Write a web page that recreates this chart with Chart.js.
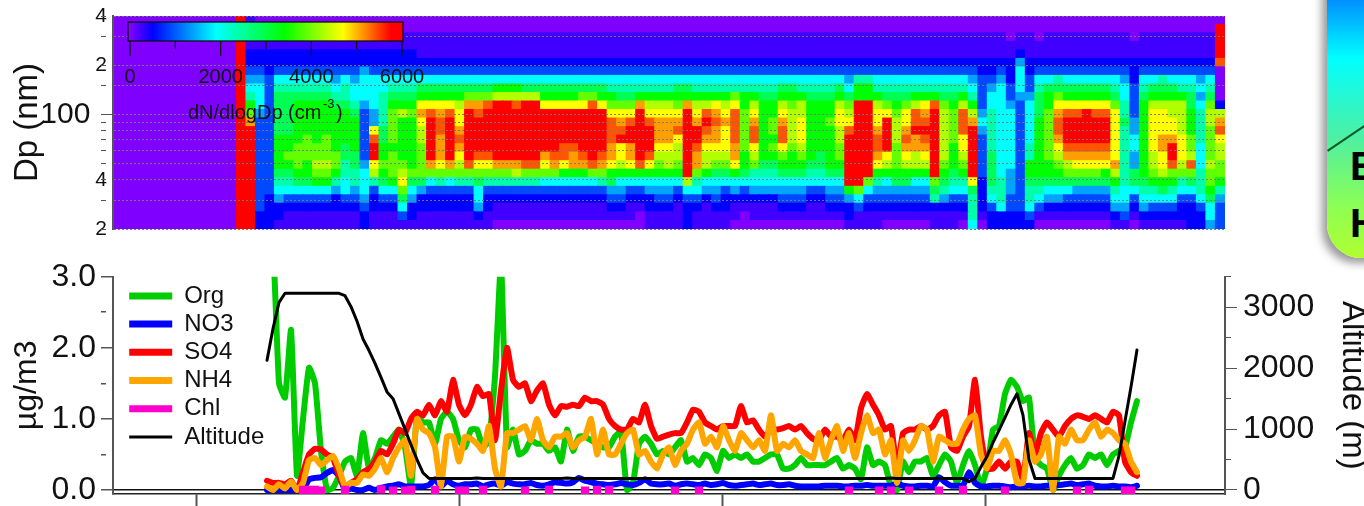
<!DOCTYPE html>
<html><head><meta charset="utf-8">
<style>
html,body{margin:0;padding:0;background:#fff;width:1364px;height:506px;overflow:hidden;position:relative;font-family:"Liberation Sans",Arial,sans-serif}
#heatWrap{position:absolute;left:0;top:0;width:1260px;height:260px}
#lineWrap{position:absolute;left:0;top:250px;width:1380px;height:280px}
#panel{position:absolute;left:1327px;top:-30px;width:90px;height:288px;border-radius:0 0 0 34px;box-shadow:-5px 5px 9px rgba(70,70,70,.55);background:linear-gradient(180deg,#0078ff 0,#0090ff 30px,#00ffff 88px,#50f0a0 170px,#90ff50 240px,#b0ff30 288px);overflow:hidden}
#panel b{position:absolute;left:23px;font:bold 40px "Liberation Sans",Arial,sans-serif;color:#000;line-height:40px}
#panel i{position:absolute;left:0;top:180px;width:50px;height:2px;background:#0c5a28;transform-origin:0 0;transform:rotate(-34deg)}
</style></head><body>
<div id="panel"><i></i><b style="top:176px">E</b><b style="top:233px">H</b></div>
<div id="heatWrap"><canvas id="heat" width="1260" height="260"></canvas></div>
<div id="lineWrap"><canvas id="lines" width="1380" height="280"></canvas></div>
<script src="https://cdn.jsdelivr.net/npm/chart.js@4"></script>
<script>
const dpEdges=[20,22.5,25.4,28.7,32.3,36.4,41.1,46.3,52.2,58.9,66.3,74.8,84.3,95.1,107.2,120.8,136.2,153.6,173.1,195.2,220,248,279.6,315.2,355.3,400];
const levelValues=[0,250,500,900,1400,1900,2400,2900,3400,3900,4300,4700,5100,5400,5800];
const colourStops=[[0,[128,0,255]],[500,[0,0,255]],[1900,[0,255,255]],[3400,[0,255,0]],[4700,[255,255,0]],[5750,[255,0,0]],[6000,[255,0,0]]];
const heatColumns=[
"0000000000000000000000000","0000000000000000000000000","0000000000000000000000000","0000000000000000000000000","0000000000000000000000000",
"0000000000000000000000000","0000000000000000000000000","0000000000000000000000000","0000000000000000000000000","0000000000000000000000000",
"0000000000000000000000000","0000000000000000000000000","0000000000000000000000000","eeeeeeeeeeeeeeeeeeeeeeeee","eeeeeeeeeeeec986543221111",
"2233333333333455543221110","2222333333333333332221110","1224567888877777653221100","1123567898877777653221100","1123578999888887653221100",
"1123578899988887653221100","1123589a99888887653221100","1123589a99988887653221100","1122468998888876543221100","1123556677888876653221100",
"1123466778888765543221100","2234555433333345554221100","112236abeedb4455553221100","1123578988776666553221100","1123589998999987653221100",
"13579ba988888a87653221100","1224579888888987653221100","1122479999aabcb8753211100","1122359ceeeeedb8753211100","1122369bcccddcb8753211100",
"1122359ceeeeedb8753211100","1122369abcdcbba8753211100","1122369deeeeeec9753211100","1245579bdeeeedc9753211100","1122369bdeeeeed9753211100",
"0112369ceeeeeeea853211100","0112369ceeeeeeea853211100","011236aceeeeeeda853211100","0112369deeeeeeea753211100","0112369deeeeeeea753211100",
"0112359bceeeeeb8753211100","0112359cdeeeeeb8753211100","0112358bddeeeeb8753211100","0112358ccdeeeeb8753211100","0112358cdeeeeeb9753211100",
"0112359deeeeeed9753211100","0112369cdeeeeeb8753211100","0123478bccdddb98653211100","0123458abbedcb97653211100","0112358bcceedb97653211100",
"0012358deeeeeec8653211100","1122458bdeeedba8653211100","11234589abcccba8653211100","1123458aabcccba8653211100","11123589aabdcb98753211100",
"22235aeeeeeeeec8753211100","1123569ccdeecba8653211100","1112458aabcdeda8653211100","11234579abccdcb8653211100","11223579abbbcba8653211100",
"0112458bccddddb9653211100","0012357889999988653211100","01124569abddcba8653211100","0112456788888887653211100","0112456789899887653211100",
"012345789bddcba8753211100","0123457889aaaa98753211100","012345789abbbaa8653211100","0112356788888887653211100","0112356778888887653211100",
"0123457888889887653211100","0123457899aabba8753211100","12248eeeeeedba97543211100","11359eeeeeeeeee8863211100","112359eeeeeeeee8863211100",
"1123468bcddcbba8653211100","0123458abeeeeb97653211100","0123478999aaa987653211100","0123478abcdcbb97653211100","0123458aaccedda8653211100",
"0123458abcdedcb8653211100","112679eeeeeeeed8653211100","11246789aaaaaa97653211100","1123567888999987653211100","01235689abbddda8653211100",
"56667beeeeeeca86543211100","0122223333345433332211100","2235677776666655432211100","2256665555555555543211100","2233444555555543322211000",
"2233333333333334555421100","2356678866555554332211100","0135678888888777653211000","0124578899999988753211100","01245789abcddcb9763211100",
"0123579acdeeedb8753211100","0123479bcdeeedb8753211100","0123479bcdeeeeb8753211100","0123479bcdeeedb8753211100","0123478bcdeeedb8753211100",
"124568acbbbbbb97653211100","1345566666667665543211100","0123577445544333322211000","1245678888888887653211100","1235689aabbbbba8753211100",
"123578abbccbbba8763211100","1235689deecbbaa8753211100","1223569abbbaaaa8653211100","2223579da9988877653211100","2235666555666654543211100",
"4557899a9999aa97653211100","33346899aabdca20000deeee0"];
const dpLabels={20:'2',40:'4',100:'100  ',200:'2',400:'4'};
const barTicks=[0,1000,2000,3000,4000,5000,6000];
const barLabels=[0,2000,4000,6000];

const org=[3.4,3.4,1.5,1.3,2.25,.2,1,1.72,1.5,.55,
0,.03,.2,.4,.45,.2,.8,.3,.45,.7,
.65,.75,.85,.6,.05,1.05,.95,.95,.65,1,
1.1,1,.7,.6,.85,.85,.6,.7,1.6,3.2,
.6,.85,.5,.55,.7,.65,.65,.55,.6,.4,
.85,.55,.75,.75,.7,.65,.6,.6,.75,.82,
0,.1,.65,.75,.65,.5,.55,.5,.6,.7,
.4,.45,.35,.5,.45,.27,.55,.45,.5,.45,
.5,.4,.4,.45,.5,.5,.3,.3,.35,.45,
.35,.35,.35,.35,.4,.45,.3,.35,.3,.15,
.6,.35,.4,.35,.05,0,.4,.25,.4,.4,
.45,.2,.35,.5,.4,.1,.35,.55,.35,.05,
.3,.85,.9,1.35,1.55,1.45,1.25,1.3,.45,.35,
.3,0,.2,.35,.45,.3,.35,.5,.45,.5,
.35,.5,.55,.6,.95,1.25];
const no3=[0,0,0,0,0,0,0,.15,.17,.18,
.24,.28,.2,0,.02,0,0,.03,0,.03,
.05,.06,.08,.05,.05,.05,.05,.07,.15,.05,
.13,.08,.06,.08,.08,.09,.05,.08,.09,.06,
.11,.09,.08,.08,.1,.07,.06,.08,.11,.1,
.09,.11,.17,.13,.11,.09,.08,.07,.08,.1,
.08,.07,.1,.15,.09,.08,.08,.09,.06,.08,
.09,.08,.07,.09,.07,.08,.1,.07,.06,.07,
.08,.09,.07,.08,.09,.07,.07,.08,.06,.05,
.05,.05,.05,.06,.06,.06,.05,.05,.06,.06,
.07,.06,.06,.06,.06,.09,.06,.05,.05,.06,
.06,.05,.18,.11,.06,.06,.06,.25,.1,.05,
.05,.06,.06,.05,.04,.05,.05,.06,.05,.05,
.06,.06,.07,.08,.09,.07,.08,.09,.06,.05,
.05,.06,.05,.05,.04,.06];
const so4=[.13,.1,.1,.08,.13,0,.25,.5,.58,.57,
.5,.45,.2,.05,.1,.15,.25,.3,.4,.55,
.5,.65,.85,.8,1,1.1,1.05,1.2,1.05,1.25,
1.1,1.55,1.2,1.05,1.2,1.45,1.32,1.35,.7,1.4,
2,1.55,1.45,1.5,1.25,1.4,1.5,1.2,1.05,1.18,
1.17,1.2,1.18,1.3,1.25,1.25,1.2,1,.9,.85,
.85,1,.95,1.2,.9,.72,.75,.78,.8,.8,
.95,1.13,1.1,.95,.9,.85,.9,.9,.9,1.18,
.95,.98,.85,.75,.85,.85,.87,.9,.85,.9,
.8,.72,.7,.85,.75,.75,.7,.85,.7,1.15,
1.35,1.2,1.05,.85,.9,.3,.8,.85,.85,.9,
.85,.9,1.05,1.1,.6,.55,.75,.9,1.55,.75,
.3,.3,.4,.3,.4,.4,.15,.8,.5,.8,
.95,.85,.75,.9,1,1.05,1.03,1,1.05,1,
.95,1.1,1.05,.4,.25,.2];
const nh4=[.05,0,.08,.02,.12,0,.1,.42,.45,.35,
.42,.48,.3,.05,.1,.1,.22,.2,.3,.45,
.25,.45,.6,.7,.2,1,.85,.8,.6,.05,
.75,.75,.4,.75,.72,.65,.55,.9,.3,.05,
.8,.8,.85,.9,.7,1,.7,.6,.75,.75,
.8,.6,.7,.75,1,.5,.85,.5,.5,.65,
.8,.85,.5,.55,.4,.3,.5,.6,.35,.55,
.65,.85,.95,.65,.75,.6,.9,.7,.55,.8,
.7,.6,.7,.55,1.05,.55,.65,.6,.7,.55,
.5,.45,.8,.45,.7,.9,.55,.8,.45,.8,
1.05,.8,.85,.5,.7,.1,.7,.55,.7,.9,
.85,.4,.75,.7,.65,.65,.85,1,1.05,.5,
.3,.55,.55,.7,.5,.1,.1,.7,.4,.5,
.75,0,.75,.65,.85,.7,.7,.85,.95,.75,
.85,.8,.7,.65,.4,.25];
const chlIndex=[6,7,8,9,13,19,21,23,24,28,32,33,36,43,47,53,55,57,68,72,97,102,104,107,112,116,123,135,137,143,144];
const chlValues=[0,0,0,-.01,0,.01,-.01,-.01,0,0,-.01,-.01,0,-.01,0,-.01,0,0,-.01,-.01,-.01,-.01,-.01,-.01,-.01,0,-.01,-.01,0,-.01,-.01];
const altitude=[2130,2650,3080,3230,3230,3230,3230,3230,3230,3230,
3230,3230,3230,3190,3010,2770,2480,2290,2080,1850,
1610,1500,1250,1000,740,500,280,190,190,190,
190,190,190,190,190,195,190,190,190,190,
190,190,190,190,190,190,190,190,190,190,
195,190,190,190,190,190,190,190,190,190,
190,190,190,190,190,190,190,190,190,190,
190,190,190,190,190,190,190,190,190,190,
190,190,190,190,190,190,190,190,190,190,
190,190,190,190,190,190,190,190,190,190,
190,190,190,190,195,190,190,190,190,190,
190,190,190,190,190,190,190,135,190,380,
550,780,980,1190,1400,1580,1230,500,190,190,
190,190,190,190,190,190,190,190,190,190,
190,190,560,1130,1690,2300];
const xTicks=[-11.67,32,76,119.67];
const concTicks=[0,.5,1,1.5,2,2.5,3];
const altTicks=[0,500,1000,1500,2000,2500,3000,3500];

function colourOf(v){
  for(let i=1;i<colourStops.length;i++){
    const a=colourStops[i-1],b=colourStops[i];
    if(v<=b[0]){const t=(v-a[0])/(b[0]-a[0]);
      return 'rgb('+a[1].map((c,k)=>Math.round(c+(b[1][k]-c)*t)).join(',')+')';}
  }
  return 'rgb(255,0,0)';
}
const AXIS='#555', TXT='#111', FONT='"Liberation Sans",Arial,sans-serif';

const heatSets=[];
for(let r=0;r<dpEdges.length-1;r++){
  heatSets.push({
    grouped:false,barPercentage:1,categoryPercentage:1,borderWidth:0,inflateAmount:0.6,
    data:heatColumns.map(()=>[dpEdges[r],dpEdges[r+1]]),
    backgroundColor:heatColumns.map(c=>colourOf(levelValues[parseInt(c[r],16)]))
  });
}
const colourBar={id:'colourBar',afterDraw(c){
  const g=c.ctx,x0=130,k=272/6000,top=22,bot=41;
  g.save();
  const grad=g.createLinearGradient(x0,0,x0+k*6000,0);
  colourStops.forEach(s=>grad.addColorStop(s[0]/6000,'rgb('+s[1].join(',')+')'));
  g.fillStyle=grad;g.fillRect(128,top,275,bot-top);
  g.strokeStyle='#111';g.lineWidth=1.3;g.strokeRect(128,top,275,bot-top);
  barTicks.forEach(t=>{g.beginPath();g.moveTo(x0+k*t,bot);g.lineTo(x0+k*t,bot+(t%2000?8:15));g.stroke();});
  g.fillStyle=TXT;g.textAlign='center';g.textBaseline='middle';g.font='20px '+FONT;
  barLabels.forEach(t=>g.fillText(String(t),x0+k*t,77));
  g.textAlign='left';
  g.fillText('dN/dlogDp (cm',188,113);
  g.font='13px '+FONT;g.fillText('-3',323,104);
  g.font='20px '+FONT;g.fillText(')',336,113);
  g.restore();
}};
new Chart(document.getElementById('heat'),{
  type:'bar',
  data:{labels:heatColumns.map((c,i)=>i),datasets:heatSets},
  plugins:[colourBar],
  options:{responsive:false,animation:false,events:[],
    layout:{padding:{top:16,bottom:31,left:0,right:35}},
    plugins:{legend:{display:false},tooltip:{enabled:false}},
    scales:{
      x:{display:false},
      y:{type:'logarithmic',position:'left',min:20,max:400,
        afterFit(s){s.width=113;},
        border:{display:true,color:AXIS,width:2,z:2,dash:[2,2]},
        grid:{z:1,color:'rgba(120,120,120,.95)',lineWidth:1,tickLength:12,tickColor:AXIS,
          tickBorderDash:c=>c.tick&&c.tick.value===100?[]:[5,100]},
        ticks:{autoSkip:false,padding:-6,color:TXT,maxRotation:0,
          font:c=>({family:FONT,size:c.tick&&c.tick.value===100?30:21}),
          callback:v=>dpLabels[v]||''},
        title:{display:true,text:'Dp (nm)',color:TXT,font:{family:FONT,size:33},padding:{top:8,bottom:0}}
      }
    }
  }
});

const seq=org.map((v,i)=>i);
const toXY=a=>a.map((v,i)=>({x:i,y:v}));
const chlData=seq.map(i=>{const p=chlIndex.indexOf(i);return {x:i,y:p<0?null:chlValues[p]};});
const common={pointRadius:0,tension:.15,borderJoinStyle:'round',borderCapStyle:'round'};
new Chart(document.getElementById('lines'),{
  type:'line',
  data:{datasets:[
    {...common,label:'Org',data:toXY(org),borderColor:'#00cc00',backgroundColor:'#00cc00',borderWidth:6,order:5,yAxisID:'y'},
    {...common,label:'NO3',data:toXY(no3),borderColor:'#0000ff',backgroundColor:'#0000ff',borderWidth:6,order:4,yAxisID:'y'},
    {...common,label:'SO4',data:toXY(so4),borderColor:'#ff0000',backgroundColor:'#ff0000',borderWidth:6,order:3,yAxisID:'y'},
    {...common,label:'NH4',data:toXY(nh4),borderColor:'#ffa500',backgroundColor:'#ffa500',borderWidth:6,order:2,yAxisID:'y'},
    {...common,label:'Chl',data:chlData,borderColor:'#ff00cc',backgroundColor:'#ff00cc',borderWidth:6,order:1,yAxisID:'y',pointRadius:1.6,pointStyle:'rect',spanGaps:false},
    {...common,label:'Altitude',data:toXY(altitude),borderColor:'#000',backgroundColor:'#000',borderWidth:3,order:0,yAxisID:'y2',tension:0}
  ]},
  plugins:[{id:'legendSpot',beforeDraw(c){c.legend.left=125;c.legend.top=276.7-250+3;}}],
  options:{responsive:false,animation:false,events:[],
    layout:{padding:{top:26.7,bottom:24,left:0,right:0}},
    plugins:{tooltip:{enabled:false},
      legend:{position:'chartArea',align:'start',
        labels:{color:TXT,font:{family:FONT,size:24},padding:4.2,usePointStyle:true,pointStyle:'line',pointStyleWidth:43,boxHeight:8,
          sort:(a,b)=>a.datasetIndex-b.datasetIndex,
          generateLabels(ch){return Chart.defaults.plugins.legend.labels.generateLabels(ch).map(l=>({...l,lineWidth:l.text==='Altitude'?3:7}));}}}},
    scales:{
      x:{type:'linear',min:-25.67,max:159.67,
        afterFit(s){s.height=12;},
        afterBuildTicks(s){s.ticks=xTicks.map(v=>({value:v}));},
        border:{display:true,color:'#222',width:1.5},
        grid:{drawOnChartArea:false,tickLength:12,tickColor:AXIS,tickWidth:2},
        ticks:{display:false}},
      y:{position:'left',min:-0.0563,max:3,
        afterFit(s){s.width=113;},
        afterBuildTicks(s){s.ticks=concTicks.map(v=>({value:v}));},
        border:{display:true,color:AXIS,width:2},
        grid:{color:c=>c.tick&&c.tick.value===0?'#111':'rgba(0,0,0,0)',lineWidth:1.5,tickLength:12,tickColor:AXIS,
          tickBorderDash:c=>c.tick&&Number.isInteger(c.tick.value)?[]:[5,100]},
        ticks:{autoSkip:false,padding:5,color:TXT,font:{family:FONT,size:32},
          callback:v=>Number.isInteger(v)?v.toFixed(1):''},
        title:{display:true,text:'µg/m3',color:TXT,font:{family:FONT,size:32},padding:{top:8,bottom:0}}},
      y2:{position:'right',min:-65.7,max:3502,
        afterFit(s){s.width=155;},
        afterBuildTicks(s){s.ticks=altTicks.map(v=>({value:v}));},
        border:{display:true,color:AXIS,width:2},
        grid:{drawOnChartArea:false,tickLength:12,tickColor:AXIS,
          tickBorderDash:c=>c.tick&&c.tick.value%1000===0?[]:[5,100]},
        ticks:{autoSkip:false,padding:6,color:TXT,font:{family:FONT,size:32},
          callback:v=>v%1000===0?String(v):''},
        title:{display:true,text:'Altitude (m)',color:TXT,font:{family:FONT,size:33},padding:{top:8,bottom:0}}}
    }
  }
});
</script>
</body></html>
